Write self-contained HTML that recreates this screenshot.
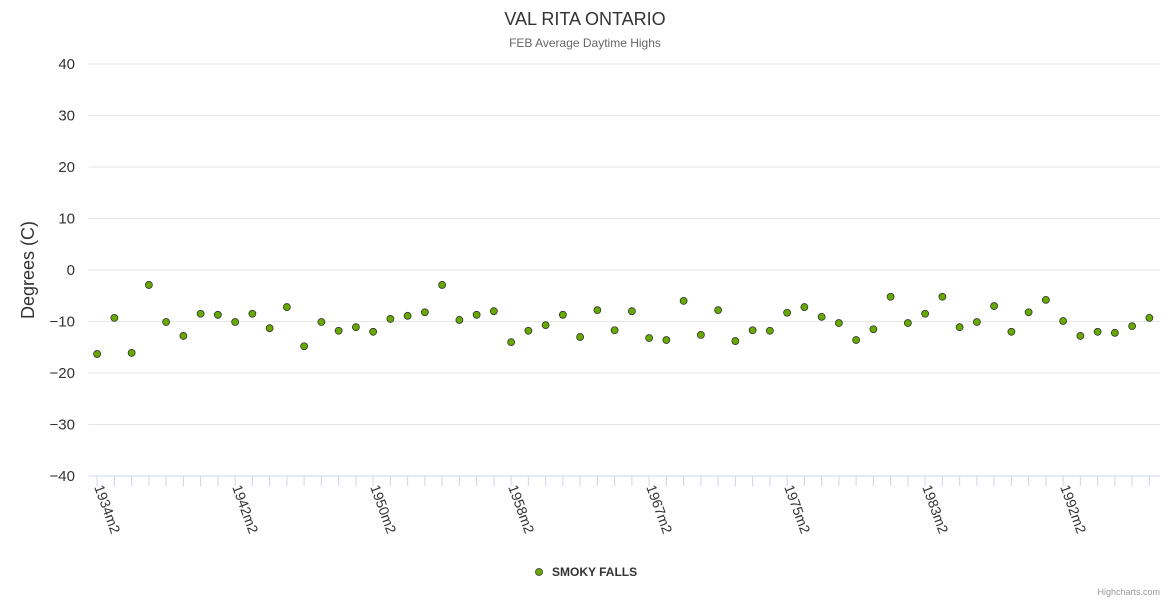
<!DOCTYPE html>
<html><head><meta charset="utf-8">
<style>
body{margin:0;background:#fff;font-family:"Liberation Sans",sans-serif;}
svg text{font-family:"Liberation Sans",sans-serif;}
</style></head>
<body>
<svg id="chart" width="1170" height="600" xmlns="http://www.w3.org/2000/svg">
<rect width="1170" height="600" fill="#fff"/>
<text x="585" y="25" text-anchor="middle" font-size="18" fill="#333">VAL RITA ONTARIO</text>
<text x="585" y="47" text-anchor="middle" font-size="12" fill="#666">FEB Average Daytime Highs</text>
<text transform="translate(34,270) rotate(-90)" text-anchor="middle" font-size="18" fill="#333">Degrees (C)</text>
<g id="grid"></g><g id="xaxis"></g><g id="points"></g>
<g>
<circle cx="539" cy="572" r="3.5" fill="#66aa00" stroke="#333" stroke-width="0.8"/>
<text x="552" y="576" font-size="12" font-weight="bold" fill="#333">SMOKY FALLS</text>
</g>
<text x="1160" y="595" text-anchor="end" font-size="9" fill="#999">Highcharts.com</text>
</svg>
<script>
const values=[-16.3,-9.3,-16.1,-2.9,-10.1,-12.8,-8.5,-8.7,-10.1,-8.5,-11.3,-7.2,-14.8,-10.1,-11.8,-11.1,-12.0,-9.5,-8.9,-8.2,-2.9,-9.7,-8.7,-8.0,-14.0,-11.8,-10.7,-8.7,-13.0,-7.8,-11.7,-8.0,-13.2,-13.6,-6.0,-12.6,-7.8,-13.8,-11.7,-11.8,-8.3,-7.2,-9.1,-10.3,-13.6,-11.5,-5.2,-10.3,-8.5,-5.2,-11.1,-10.1,-7.0,-12.0,-8.2,-5.8,-9.9,-12.8,-12.0,-12.2,-10.9,-9.3];
const years=[1934,1935,1936,1937,1938,1939,1940,1941,1942,1943,1944,1945,1946,1947,1948,1949,1950,1951,1952,1953,1954,1955,1956,1957,1958,1959,1960,1961,1963,1964,1965,1966,1967,1968,1969,1970,1971,1972,1973,1974,1975,1976,1977,1978,1979,1980,1981,1982,1983,1984,1985,1986,1988,1989,1990,1991,1992,1993,1994,1995,1996,1997];
const yTicks=[40,30,20,10,0,-10,-20,-30,-40];
const categories=years.map(y=>y+"m2");
const NS="http://www.w3.org/2000/svg";
const plotLeft=88.5,plotRight=1158,plotTop=64,plotBottom=476,yMin=-40,yMax=40;
const step=(plotRight-plotLeft)/categories.length;
const xs=i=>plotLeft+step*(i+0.5);
const ys=v=>plotBottom-(v-yMin)/(yMax-yMin)*(plotBottom-plotTop);
function mk(tag,attrs,parent){const e=document.createElementNS(NS,tag);for(const k in attrs)e.setAttribute(k,attrs[k]);parent.appendChild(e);return e;}
const grid=document.getElementById('grid');
yTicks.forEach(t=>{
  const l=mk('line',{x1:plotLeft,x2:plotRight+2,y1:ys(t),y2:ys(t),stroke:'#e6e6e6','stroke-width':1},grid);
  
  
  const tx=mk('text',{x:75,y:ys(t)+5,'text-anchor':'end','font-size':15,fill:'#333'},grid);
  tx.textContent=t<0?'−'+(-t):String(t);
  
  
});
const xa=document.getElementById('xaxis');
const ax=mk('line',{x1:plotLeft,x2:plotRight+2,y1:plotBottom,y2:plotBottom,stroke:'#ccd6eb','stroke-width':1},xa);


categories.forEach((c,i)=>{
  const x=xs(i);
  const tk=mk('line',{x1:x,x2:x,y1:plotBottom,y2:plotBottom+10,stroke:'#ccd6eb','stroke-width':1},xa);
  
  
  if(i%8===0){
    const t=mk('text',{transform:`translate(${x-3},${plotBottom+11}) rotate(70)`,'font-size':14,fill:'#333'},xa);
    t.textContent=c;
    
    
  }
});
const pts=document.getElementById('points');
values.forEach((v,i)=>{
  const c=mk('circle',{cx:xs(i),cy:ys(v),r:3.5,fill:'#66aa00',stroke:'#333','stroke-width':0.8},pts);
  
  
});
</script>
</body></html>
